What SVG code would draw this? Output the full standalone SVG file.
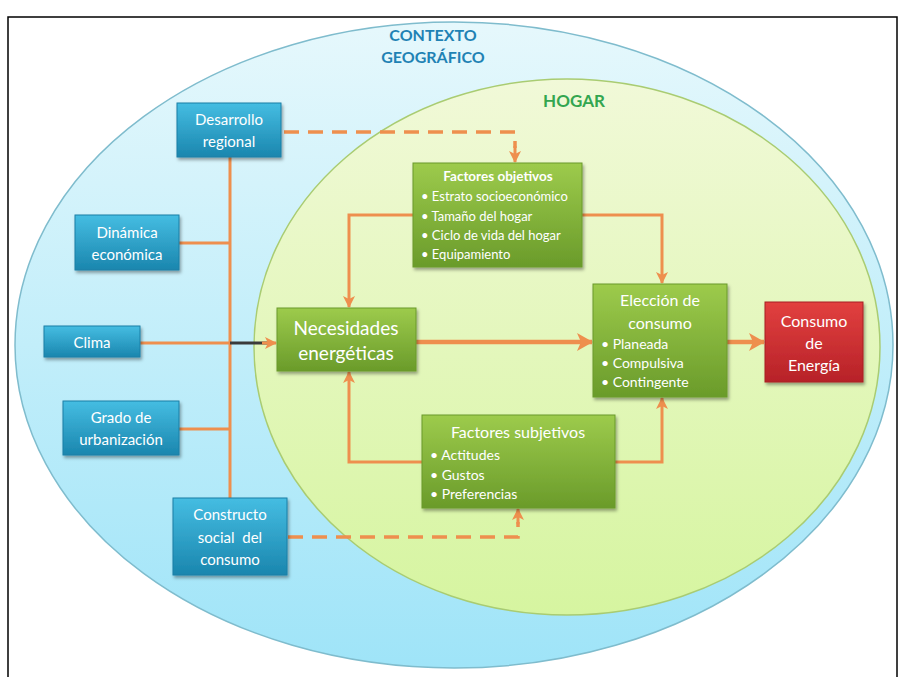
<svg xmlns="http://www.w3.org/2000/svg" width="904" height="677" viewBox="0 0 904 677">
<defs>
<linearGradient id="gOuter" x1="0" y1="0" x2="0" y2="1">
<stop offset="0" stop-color="#e6f8fc"/>
<stop offset="0.5" stop-color="#c2eefa"/>
<stop offset="1" stop-color="#9fe4f8"/>
</linearGradient>
<linearGradient id="gInner" x1="0" y1="0" x2="0" y2="1">
<stop offset="0" stop-color="#f1f9d8"/>
<stop offset="1" stop-color="#d6f5a0"/>
</linearGradient>
<linearGradient id="gBlue" x1="0" y1="0" x2="0" y2="1">
<stop offset="0" stop-color="#45bde2"/>
<stop offset="1" stop-color="#1a86ae"/>
</linearGradient>
<linearGradient id="gGreen" x1="0" y1="0" x2="0" y2="1">
<stop offset="0" stop-color="#9dcb4c"/>
<stop offset="1" stop-color="#6a9b2a"/>
</linearGradient>
<linearGradient id="gRed" x1="0" y1="0" x2="0" y2="1">
<stop offset="0" stop-color="#e2403f"/>
<stop offset="1" stop-color="#b72228"/>
</linearGradient>
<filter id="sh" x="-10%" y="-10%" width="125%" height="130%">
<feDropShadow dx="1.5" dy="2.5" stdDeviation="1.8" flood-color="#000" flood-opacity="0.35"/>
</filter>
<marker id="ah" viewBox="0 0 12 12" markerWidth="12" markerHeight="12" refX="11" refY="6" orient="auto" markerUnits="userSpaceOnUse">
<path d="M0,0 L12,6 L0,12 L3,6 z" fill="#ee8f4e"/>
</marker>
<marker id="ahBig" viewBox="0 0 16 18" markerWidth="16" markerHeight="18" refX="15" refY="9" orient="auto" markerUnits="userSpaceOnUse">
<path d="M0,0 L16,9 L0,18 L4,9 z" fill="#ee8f4e"/>
</marker>
<style>
.ln{fill:none;stroke:#ee8f4e;stroke-width:3}
.thick{fill:none;stroke:#ee8f4e;stroke-width:4.5}
.dash{fill:none;stroke:#ee8f4e;stroke-width:3.5;stroke-dasharray:15 9}
.blue{fill:url(#gBlue);stroke:#1b7fa6;stroke-width:1;filter:url(#sh)}
.green{fill:url(#gGreen);stroke:#6a9a2a;stroke-width:1;filter:url(#sh)}
.red{fill:url(#gRed);stroke:#a81f25;stroke-width:1;filter:url(#sh)}
.t{font-family:Lato,"Liberation Sans",sans-serif;fill:#ffffff;text-anchor:middle}
.tl{font-family:Lato,"Liberation Sans",sans-serif;fill:#ffffff}
.s15{font-size:15px}
.s13{font-size:13px}
.s14{font-size:14px}
</style>
</defs>
<rect x="0" y="0" width="904" height="677" fill="#ffffff"/>
<rect x="8" y="17" width="889" height="670" fill="none" stroke="#000" stroke-width="1.5"/>

<g id="contexto">
<ellipse cx="454" cy="345" rx="439" ry="323" fill="url(#gOuter)" stroke="#7fbccd" stroke-width="1.5"/>
<text x="433" y="41" font-family="Lato,'Liberation Sans',sans-serif" font-size="16" font-weight="bold" fill="#1f82b4" text-anchor="middle">CONTEXTO</text>
<text x="433" y="63" font-family="Lato,'Liberation Sans',sans-serif" font-size="16" font-weight="bold" fill="#1f82b4" text-anchor="middle">GEOGRÁFICO</text>
</g>

<g id="hogar">
<ellipse cx="567" cy="347" rx="313" ry="268" fill="url(#gInner)" stroke="#a9cc72" stroke-width="1.5"/>
<text x="574" y="107" font-family="Lato,'Liberation Sans',sans-serif" font-size="17" font-weight="bold" fill="#33a650" text-anchor="middle">HOGAR</text>
</g>

<g id="connectors">
<path class="ln" d="M230,157 V498"/>
<path class="ln" d="M179,243 H230"/>
<path class="ln" d="M140,343 H230"/>
<path class="ln" d="M179,429 H230"/>
<path d="M230,343 H268" fill="none" stroke="#3a3a3a" stroke-width="3"/>
<path d="M262,343 H276" fill="none" stroke="#ee8f4e" stroke-width="3" marker-end="url(#ah)"/>
<path class="dash" d="M284,132 H515 V148"/>
<path class="ln" d="M515,146 V162" marker-end="url(#ah)"/>
<path class="dash" d="M288,537 H518 V522"/>
<path class="ln" d="M518,524 V509" marker-end="url(#ah)"/>
<path class="ln" d="M413,215 H349 V307" marker-end="url(#ah)"/>
<path class="ln" d="M422,462 H349 V372" marker-end="url(#ah)"/>
<path class="ln" d="M582,215 H662 V283" marker-end="url(#ah)"/>
<path class="ln" d="M615,462 H662 V398" marker-end="url(#ah)"/>
<path class="thick" d="M416,342 H592" marker-end="url(#ahBig)"/>
<path class="thick" d="M727,342 H764" marker-end="url(#ahBig)"/>
</g>

<g id="desarrollo">
<rect class="blue" x="177" y="103" width="104" height="54"/>
<text class="t s15" x="229" y="125">Desarrollo</text>
<text class="t s15" x="229" y="147">regional</text>
</g>
<g id="dinamica">
<rect class="blue" x="75" y="215" width="104" height="55"/>
<text class="t s15" x="127" y="238">Dinámica</text>
<text class="t s15" x="127" y="260">económica</text>
</g>
<g id="clima">
<rect class="blue" x="44" y="326" width="96" height="31"/>
<text class="t s15" x="92" y="348">Clima</text>
</g>
<g id="grado">
<rect class="blue" x="63" y="401" width="116" height="54"/>
<text class="t s15" x="121" y="423">Grado de</text>
<text class="t s15" x="121" y="445">urbanización</text>
</g>
<g id="constructo">
<rect class="blue" x="173" y="498" width="114" height="77"/>
<text class="t s15" x="230" y="520">Constructo</text>
<text class="t s15" x="230" y="543" xml:space="preserve">social  del</text>
<text class="t s15" x="230" y="565">consumo</text>
</g>

<g id="necesidades">
<rect class="green" x="277" y="308" width="139" height="63"/>
<text class="t" x="346" y="335" font-size="19">Necesidades</text>
<text class="t" x="346" y="360" font-size="19">energéticas</text>
</g>

<g id="objetivos">
<rect class="green" x="413" y="163" width="169" height="104"/>
<text class="t" x="498" y="181" font-size="13.5" font-weight="bold">Factores objetivos</text>
<text class="tl s13" x="421" y="201">• Estrato socioeconómico</text>
<text class="tl s13" x="421" y="221">• Tamaño del hogar</text>
<text class="tl s13" x="421" y="240">• Ciclo de vida del hogar</text>
<text class="tl s13" x="421" y="259">• Equipamiento</text>
</g>

<g id="subjetivos">
<rect class="green" x="422" y="415" width="193" height="93"/>
<text class="t" x="518" y="438" font-size="16">Factores subjetivos</text>
<text class="tl s14" x="430" y="460">• Actitudes</text>
<text class="tl s14" x="430" y="480">• Gustos</text>
<text class="tl s14" x="430" y="499">• Preferencias</text>
</g>

<g id="eleccion">
<rect class="green" x="593" y="284" width="134" height="113"/>
<text class="t" x="660" y="306" font-size="16">Elección de</text>
<text class="t" x="660" y="329" font-size="16">consumo</text>
<text class="tl s14" x="601" y="349">• Planeada</text>
<text class="tl s14" x="601" y="368">• Compulsiva</text>
<text class="tl s14" x="601" y="387">• Contingente</text>
</g>

<g id="consumo">
<rect class="red" x="765" y="302" width="98" height="80"/>
<text class="t" x="814" y="327" font-size="16">Consumo</text>
<text class="t" x="814" y="349" font-size="16">de</text>
<text class="t" x="814" y="371" font-size="16">Energía</text>
</g>
</svg>
